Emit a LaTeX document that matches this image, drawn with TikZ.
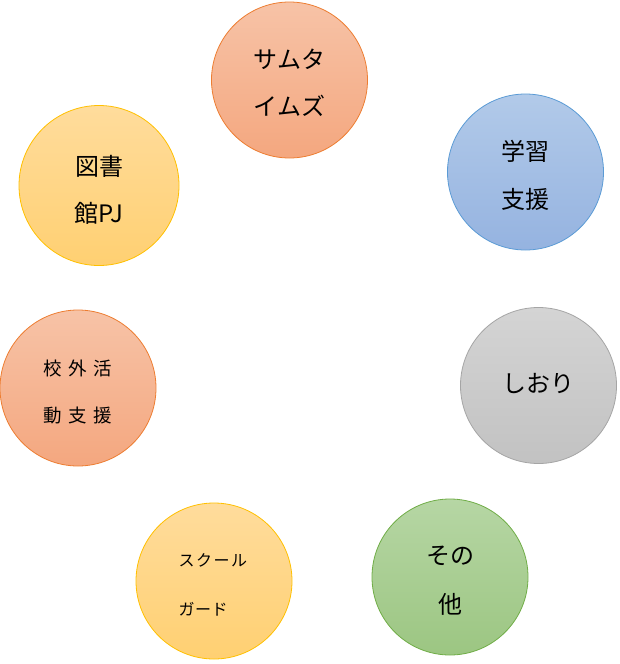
\documentclass[tikz,border=0pt]{standalone}
\usepackage{fontspec}
\newfontfamily\jp{Noto Sans CJK JP}
\usetikzlibrary{shadings}
\definecolor{orTop}{HTML}{F7C3A7}
\definecolor{orBot}{HTML}{F4A77F}
\definecolor{orLine}{HTML}{ED7D31}
\definecolor{blTop}{HTML}{B2CAE9}
\definecolor{blBot}{HTML}{95B3E0}
\definecolor{blLine}{HTML}{5B9BD5}
\definecolor{goTop}{HTML}{FFDC9C}
\definecolor{goBot}{HTML}{FFD072}
\definecolor{goLine}{HTML}{FFC000}
\definecolor{grTop}{HTML}{D4D4D4}
\definecolor{grBot}{HTML}{C2C2C2}
\definecolor{grLine}{HTML}{A5A5A5}
\definecolor{gnTop}{HTML}{B6D6A4}
\definecolor{gnBot}{HTML}{9CC682}
\definecolor{gnLine}{HTML}{70AD47}
\tikzset{
  bubble/.style={circle, minimum size=156pt, inner sep=0pt, line width=0.8pt},
  orb/.style={bubble, draw=orLine, top color=orTop, bottom color=orBot},
  blb/.style={bubble, draw=blLine, top color=blTop, bottom color=blBot},
  gob/.style={bubble, draw=goLine, top color=goTop, bottom color=goBot},
  grb/.style={bubble, draw=grLine, top color=grTop, bottom color=grBot},
  gnb/.style={bubble, draw=gnLine, top color=gnTop, bottom color=gnBot},
  big/.style={font=\jp\fontsize{24}{24}\selectfont, inner sep=0pt, text=black},
  mid/.style={font=\jp\fontsize{18.5}{18.5}\selectfont, inner sep=0pt, text=black},
  small/.style={font=\jp\fontsize{16}{16}\selectfont, inner sep=0pt, text=black},
}
\begin{document}
\begin{tikzpicture}[x=1pt,y=-1pt]
\useasboundingbox (0,0) rectangle (620,664);
% circles
\node[orb] (c1) at (289.5,80) {};
\node[blb] (c2) at (525.5,172) {};
\node[gob, minimum size=160pt] (c3) at (99,185.5) {};
\node[orb] (c4) at (78,388) {};
\node[grb] (c5) at (538.5,385.5) {};
\node[gob] (c6) at (214,581) {};
\node[gnb] (c7) at (450,577) {};
% labels
\node[big] (t1a) at (289.5,59) {サムタ};
\node[big] (t1b) at (289.5,106) {イムズ};
\node[big] (t2a) at (525.5,151) {学習};
\node[big] (t2b) at (525.5,199) {支援};
\node[big] (t3a) at (99,166) {図書};
\node[big] (t3b) at (99,213) {館PJ};
\node[mid] (t4a) at (78,368) {校\hspace{6.5pt}外\hspace{6.5pt}活};
\node[mid] (t4b) at (78,416) {動\hspace{6.5pt}支\hspace{6.5pt}援};
\node[big] (t5) at (538.5,384) {しおり};
\node[small, anchor=west] (t6a) at (178.5,560) {ス\hspace{1.5pt}ク\hspace{1.5pt}ー\hspace{1.5pt}ル};
\node[small, anchor=west] (t6b) at (178.5,609) {ガ\hspace{0.5pt}ー\hspace{0.5pt}ド};
\node[big] (t7a) at (450,556) {その};
\node[big] (t7b) at (450,604) {他};
\end{tikzpicture}
\end{document}
